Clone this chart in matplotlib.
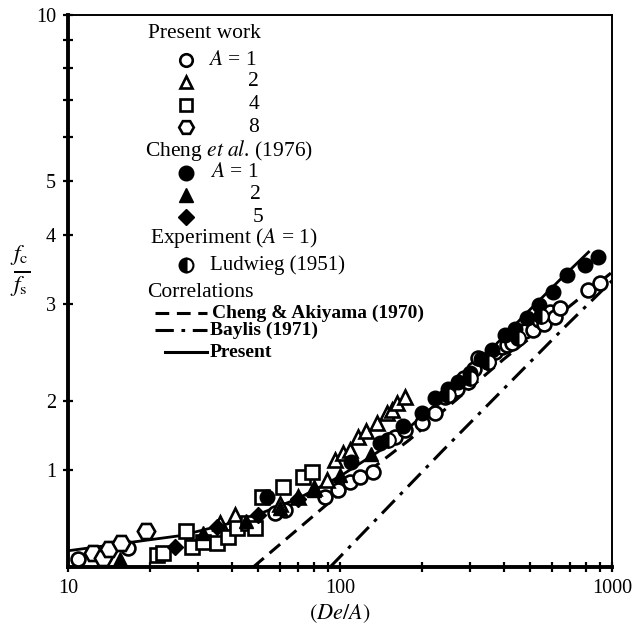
import numpy as np
import matplotlib
matplotlib.use("Agg")
import matplotlib.pyplot as plt
from matplotlib.ticker import FixedLocator, FixedFormatter, NullFormatter

plt.rcParams['font.family'] = ['Liberation Serif', 'DejaVu Serif']
plt.rcParams['mathtext.fontset'] = 'stix'

# present work, open symbols
pw_a1_x = [10.9, 16.6, 41.8, 57.7, 62.8, 88.1, 98.3, 108.8, 118.4, 132.2, 159.3, 173.4,
           200, 224, 243, 255, 270, 285, 295.5, 310, 321.7, 350, 370, 394, 410, 430, 459,
           480, 512, 540, 560, 590, 617, 644, 816, 903]
pw_a1_y = [1.034, 1.082, 1.18, 1.253, 1.268, 1.339, 1.379, 1.426, 1.456, 1.486, 1.72, 1.771,
           1.82, 1.90, 2.032, 2.06, 2.10, 2.20, 2.163, 2.28, 2.391, 2.35, 2.45, 2.504, 2.52,
           2.55, 2.665, 2.68, 2.688, 2.80, 2.75, 2.90, 2.838, 2.946, 3.175, 3.27]
pw_a2_x = [36.2, 41.1, 60, 70, 80, 89.6, 95.9, 102.6, 108.8, 116.5, 125, 136.8, 148.9, 155.3, 162.1, 173.4]
pw_a2_y = [1.201, 1.242, 1.30, 1.34, 1.39, 1.438, 1.563, 1.609, 1.629, 1.72, 1.76, 1.824, 1.901, 1.925, 1.982, 2.032]
pw_a4_x = [21.2, 22.4, 27.2, 28.6, 31.4, 35.3, 38.7, 41.8, 45.9, 48.7, 51.7, 61.7, 73.1, 78.9]
pw_a4_y = [1.051, 1.060, 1.162, 1.087, 1.110, 1.105, 1.133, 1.177, 1.201, 1.177, 1.339, 1.396, 1.456, 1.486]
pw_a8_x = [12.4, 13.4, 14.1, 15.7, 19.4]
pw_a8_y = [1.060, 1.038, 1.078, 1.105, 1.162]

# Cheng et al. (1976), filled symbols
ch_a1_x = [54, 110, 140, 170, 200, 224, 250, 272, 300, 330, 362, 404, 440, 487, 540, 607, 683, 796, 888]
ch_a1_y = [1.339, 1.55, 1.68, 1.80, 1.901, 2.024, 2.10, 2.163, 2.25, 2.38, 2.473, 2.632, 2.70,
           2.826, 2.98, 3.149, 3.381, 3.52, 3.644]
ch_a2_x = [15.5, 31.4, 45, 60, 80, 100, 130]
ch_a2_y = [1.034, 1.152, 1.21, 1.28, 1.38, 1.47, 1.60]
ch_a5_x = [24.7, 35.3, 50, 70]
ch_a5_y = [1.087, 1.18, 1.24, 1.33]

# Ludwieg (1951) experiment
lw_x = [150, 250, 300, 350, 450, 550]
lw_y = [1.70, 2.05, 2.20, 2.35, 2.60, 2.85]

# correlations
ca_x = [48, 100, 180, 400, 1000]
ca_y = [1.0, 1.36, 1.70, 2.38, 3.42]
bay_x = [92, 240, 670, 1000]
bay_y = [1.0, 1.63, 2.72, 3.30]
pres_x = [10, 26, 45, 70, 100, 150, 220, 320, 470, 650, 820]
pres_y = [1.07, 1.14, 1.22, 1.33, 1.46, 1.66, 1.95, 2.33, 2.84, 3.33, 3.72]

y_ticks = [1.5, 2, 3, 4, 5, 10]
y_ticklabels = ['1', '2', '3', '4', '5', '10']
x_ticks = [10, 100, 1000]
x_ticklabels = ['10', '100', '1000']

fig = plt.figure(figsize=(6.35, 6.27), dpi=100)
ax = fig.add_axes([0.1071, 0.0957, 0.8567, 0.8804])
ax.set_xscale('log')
ax.set_yscale('log')
ax.set_xlim(10, 1000)
ax.set_ylim(1, 10)

dash = (0, (4.5, 2.5))
dashdot = (0, (6, 2.5, 1.2, 2.5))
ax.plot(ca_x, ca_y, color='black', lw=2.2, ls=dash, zorder=2)
ax.plot(bay_x, bay_y, color='black', lw=2.2, ls=dashdot, zorder=2)
ax.plot(pres_x, pres_y, color='black', lw=2.0, zorder=2)

op = dict(ls='none', mfc='white', mec='black', mew=1.9, zorder=3, clip_on=False)
fl = dict(ls='none', color='black', zorder=4, clip_on=False)
ax.plot(pw_a1_x, pw_a1_y, marker='o', ms=10, **op)
ax.plot(pw_a2_x, pw_a2_y, marker='^', ms=9.5, **op)
ax.plot(pw_a4_x, pw_a4_y, marker='s', ms=10.5, **op)
ax.plot(pw_a8_x, pw_a8_y, marker='H', ms=12.5, **op)
ax.plot(ch_a1_x, ch_a1_y, marker='o', ms=10.5, **fl)
ax.plot(ch_a2_x, ch_a2_y, marker='^', ms=9.5, **fl)
ax.plot(ch_a5_x, ch_a5_y, marker='D', ms=8, **fl)
ax.plot(lw_x, lw_y, ls='none', marker='o', ms=10.5, color='black', fillstyle='left',
        markerfacecoloralt='white', mew=1.5, zorder=4)

# axes and ticks
for side in ['left', 'bottom']:
    ax.spines[side].set_linewidth(2.8)
for side in ['top', 'right']:
    ax.spines[side].set_linewidth(1.4)
ax.xaxis.set_major_locator(FixedLocator(x_ticks))
ax.xaxis.set_major_formatter(FixedFormatter(x_ticklabels))
ax.xaxis.set_minor_locator(FixedLocator([20, 30, 40, 50, 60, 70, 80, 90,
                                         200, 300, 400, 500, 600, 700, 800, 900]))
ax.xaxis.set_minor_formatter(NullFormatter())
ax.yaxis.set_major_locator(FixedLocator(y_ticks))
ax.yaxis.set_major_formatter(FixedFormatter(y_ticklabels))
ax.yaxis.set_minor_locator(FixedLocator([6, 7, 8, 9]))
ax.yaxis.set_minor_formatter(NullFormatter())
ax.tick_params(which='both', direction='inout', length=7, width=1.6, labelsize=14.5, pad=5)

ax.set_xlabel(r'$(De/A)$', fontsize=16, labelpad=3)
ax.set_ylabel(r'$\frac{f_\mathrm{c}}{f_\mathrm{s}}$', fontsize=24, rotation=0,
              ha='center', va='center')
ax.yaxis.set_label_coords(-0.088, 0.536)

# legend drawn by hand
T = ax.transAxes
kw = dict(transform=T, va='center', clip_on=False)
hd = 15.5
mx = 0.217
ax.text(0.147, 0.967, 'Present work', ha='left', fontsize=hd, **kw)
ax.plot([mx], [0.918], marker='o', ms=9, transform=T, **op)
ax.text(0.257, 0.918, r'$A$ = 1', ha='left', fontsize=hd, **kw)
ax.plot([mx], [0.879], marker='^', ms=9, transform=T, **op)
ax.text(0.351, 0.879, '2', ha='right', fontsize=hd, **kw)
ax.plot([mx], [0.837], marker='s', ms=9, transform=T, **op)
ax.text(0.351, 0.837, '4', ha='right', fontsize=hd, **kw)
ax.plot([mx], [0.797], marker='H', ms=10.5, transform=T, **op)
ax.text(0.351, 0.797, '8', ha='right', fontsize=hd, **kw)

ax.text(0.1415, 0.755, r'Cheng $et\ al$. (1976)', ha='left', fontsize=hd, **kw)
ax.plot([mx], [0.714], marker='o', ms=10.5, transform=T, **fl)
ax.text(0.261, 0.714, r'$A$ = 1', ha='left', fontsize=hd, **kw)
ax.plot([mx], [0.674], marker='^', ms=10, transform=T, **fl)
ax.text(0.355, 0.674, '2', ha='right', fontsize=hd, **kw)
ax.plot([mx], [0.634], marker='D', ms=8, transform=T, **fl)
ax.text(0.359, 0.634, '5', ha='right', fontsize=hd, **kw)

ax.text(0.151, 0.596, r'Experiment ($A$ = 1)', ha='left', fontsize=hd, **kw)
ax.plot([mx], [0.547], marker='o', ms=10, color='black', fillstyle='left',
        markerfacecoloralt='white', mew=1.5, ls='none', transform=T, clip_on=False)
ax.text(0.261, 0.547, 'Ludwieg (1951)', ha='left', fontsize=15, **kw)

ax.text(0.145, 0.498, 'Correlations', ha='left', fontsize=hd, **kw)
ax.plot([0.160, 0.255], [0.460, 0.460], color='black', lw=2.2, ls=dash,
        transform=T, clip_on=False)
ax.text(0.265, 0.460, 'Cheng & Akiyama (1970)', ha='left', fontsize=14,
        fontweight='bold', **kw)
ax.plot([0.160, 0.255], [0.429, 0.429], color='black', lw=2.2, ls=dashdot,
        transform=T, clip_on=False)
ax.text(0.261, 0.429, 'Baylis (1971)', ha='left', fontsize=14, fontweight='bold', **kw)
ax.plot([0.178, 0.255], [0.389, 0.389], color='black', lw=2.2, transform=T, clip_on=False)
ax.text(0.261, 0.389, 'Present', ha='left', fontsize=14, fontweight='bold', **kw)

fig.savefig('out.png', dpi=100)
